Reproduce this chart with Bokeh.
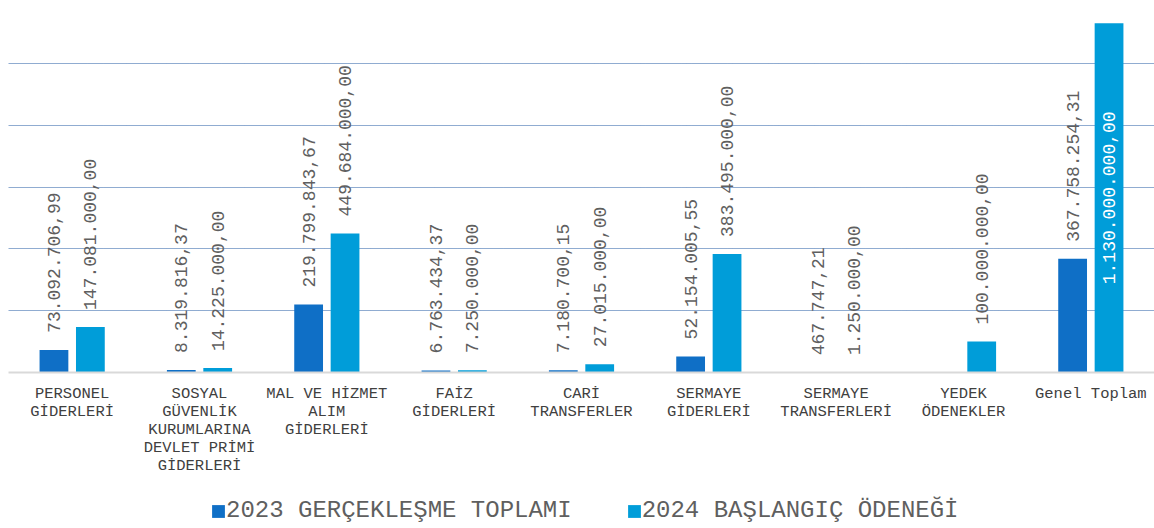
import math
from bokeh.plotting import figure
from bokeh.layouts import column
from bokeh.models import ColumnDataSource, FactorRange, Range1d, FixedTicker, Legend, LegendItem
from bokeh.transform import dodge
from bokeh.core.properties import value
from bokeh.embed import file_html
from bokeh.resources import INLINE

categories = [
    "PERSONEL\nGİDERLERİ",
    "SOSYAL\nGÜVENLİK\nKURUMLARINA\nDEVLET PRİMİ\nGİDERLERİ",
    "MAL VE HİZMET\nALIM\nGİDERLERİ",
    "FAİZ\nGİDERLERİ",
    "CARİ\nTRANSFERLER",
    "SERMAYE\nGİDERLERİ",
    "SERMAYE\nTRANSFERLERİ",
    "YEDEK\nÖDENEKLER",
    "Genel Toplam",
]
series_names = ["2023 GERÇEKLEŞME TOPLAMI", "2024 BAŞLANGIÇ ÖDENEĞİ"]
values_2023 = [73092706.99, 8319816.37, 219799843.67, 6763434.37, 7180700.15,
               52154005.55, 467747.21, float("nan"), 367758254.31]
values_2024 = [147081000.00, 14225000.00, 449684000.00, 7250000.00, 27015000.00,
               383495000.00, 1250000.00, 100000000.00, 1130000000.00]
grid_ticks = [0, 200e6, 400e6, 600e6, 800e6, 1000e6, 1200e6]

colors = ["#0F6FC6", "#009DD9"]
offsets = [-0.143, 0.143]
YMAX = 1200e6
FONT = "Liberation Mono"


def fmt(v):
    s = f"{v:,.2f}"
    return s.replace(",", "X").replace(".", ",").replace("X", ".")


p = figure(
    width=1154, height=482,
    x_range=FactorRange(*categories, range_padding=0),
    y_range=Range1d(0, YMAX),
    output_backend="svg", toolbar_location=None,
    min_border_left=8, min_border_right=0, min_border_top=1, min_border_bottom=110,
)
p.outline_line_color = None
p.yaxis.visible = False
p.xgrid.grid_line_color = None
p.ygrid.ticker = FixedTicker(ticks=grid_ticks)
p.ygrid.grid_line_color = "#2158a3"
p.ygrid.grid_line_dash = "1 1"
p.ygrid.grid_line_width = 1

ax = p.xaxis[0]
ax.major_tick_line_color = None
ax.minor_tick_line_color = None
ax.axis_line_color = "#d9d9d9"
ax.axis_line_width = 2
ax.major_label_text_font = FONT
ax.major_label_text_font_size = "15.5px"
ax.major_label_text_color = "#404040"
ax.major_label_text_line_height = 1.0
ax.major_label_standoff = 6

for vals, col, off in zip([values_2023, values_2024], colors, offsets):
    xs, ys = [], []
    for c, v in zip(categories, vals):
        if not math.isnan(v):
            xs.append(c)
            ys.append(v)
    src = ColumnDataSource(dict(x=xs, top=ys))
    p.vbar(x=dodge("x", off, range=p.x_range), top="top", width=0.226,
           source=src, fill_color=col, line_color=None)

    out_x, out_y, out_t, in_x, in_y, in_t = [], [], [], [], [], []
    for c, v in zip(xs, ys):
        if v > 0.9 * YMAX:
            in_x.append(c); in_y.append(v / 2); in_t.append(fmt(v))
        else:
            out_x.append(c); out_y.append(v); out_t.append(fmt(v))
    s_out = ColumnDataSource(dict(x=out_x, y=out_y, t=out_t))
    p.text(x=dodge("x", off, range=p.x_range), y="y", text="t", source=s_out,
           angle=math.pi / 2, text_align="left", text_baseline="middle",
           y_offset=-17, text_font=value(FONT), text_font_size="18px",
           text_color="#5f5f5f")
    s_in = ColumnDataSource(dict(x=in_x, y=in_y, t=in_t))
    p.text(x=dodge("x", off, range=p.x_range), y="y", text="t", source=s_in,
           angle=math.pi / 2, text_align="center", text_baseline="middle",
           text_font=value(FONT), text_font_size="18px", text_color="#ffffff")

# legend strip below the chart (zero-height stand-in bars carry the series colours)
p2 = figure(
    width=1154, height=46, x_range=Range1d(0, 1), y_range=Range1d(0, 1),
    output_backend="svg", toolbar_location=None,
    min_border_left=0, min_border_right=0, min_border_top=0, min_border_bottom=0,
)
p2.axis.visible = False
p2.grid.grid_line_color = None
p2.outline_line_color = None
leg_renderers = []
for col in colors:
    leg_renderers.append(p2.vbar(x=[0], top=[0], bottom=[0], width=0.0,
                                 fill_color=col, line_color=None))
legend = Legend(
    items=[LegendItem(label=n, renderers=[r]) for n, r in zip(series_names, leg_renderers)],
    orientation="horizontal", location=(202, 4),
    label_text_font=FONT, label_text_font_size="24px", label_text_color="#5f5f5f",
    glyph_width=16, glyph_height=16, spacing=54, padding=0, margin=0,
    border_line_color=None, background_fill_alpha=0, label_standoff=0,
)
p2.add_layout(legend, "center")

open("out.html", "w").write(file_html(column(p, p2, spacing=0), INLINE))
